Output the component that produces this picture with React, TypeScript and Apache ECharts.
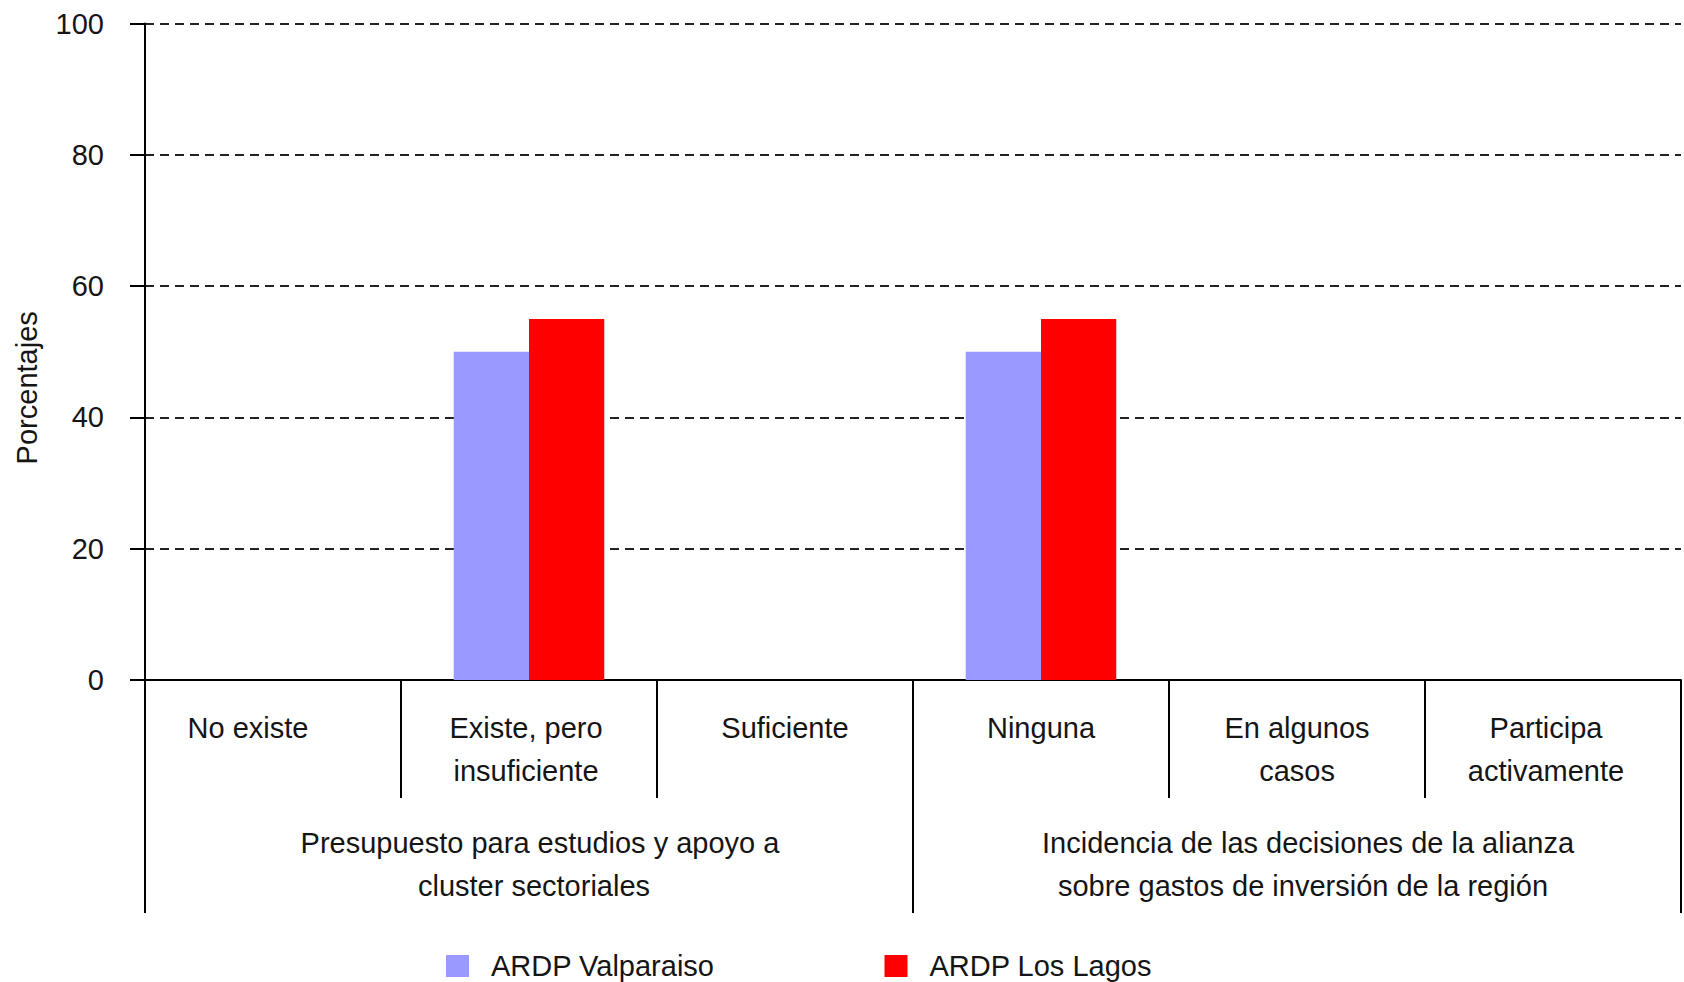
import React, { useEffect, useRef } from "react";
import * as echarts from "echarts";

const categories = [
  "No existe",
  "Existe, pero\ninsuficiente",
  "Suficiente",
  "Ninguna",
  "En algunos\ncasos",
  "Participa\nactivamente",
];
const groups = [
  "Presupuesto para estudios y apoyo a\ncluster sectoriales",
  "Incidencia de las decisiones de la alianza\nsobre gastos de inversión de la región",
];
const seriesNames = ["ARDP Valparaiso", "ARDP Los Lagos"];
const valparaiso = [0, 50, 0, 50, 0, 0];
const losLagos = [0, 55, 0, 55, 0, 0];
const yMin = 0;
const yMax = 100;
const yStep = 20;
const yTitle = "Porcentajes";

const FONT = "'Liberation Sans', Arial, Helvetica, sans-serif";
const TXT = "#151515";

// horizontal nudges of label lines (style only)
const catShift = [-50, -6, 0, 0, 0, -14];
const groupShift = [
  [22, 10],
  [22, 12],
];

function padFor(shift: number) {
  return shift >= 0 ? [0, 0, 0, shift] : [0, -shift, 0, 0];
}

export default function App() {
  const ref = useRef<HTMLDivElement>(null);
  useEffect(() => {
    if (!ref.current) return;
    const chart = echarts.init(ref.current, undefined, { renderer: "svg" });
    const gridPos = { left: 145, right: 3, top: 23.6, bottom: 302 };
    const baseText = { fontSize: 29, lineHeight: 43, color: TXT, fontFamily: FONT };

    const catRich: Record<string, any> = {};
    catShift.forEach((s, i) => {
      catRich["c" + i] = { ...baseText, padding: padFor(s) };
    });
    const groupRich: Record<string, any> = {};
    groupShift.forEach((arr, i) => {
      arr.forEach((s, j) => {
        groupRich["g" + i + "_" + j] = { ...baseText, padding: padFor(s) };
      });
    });

    chart.setOption({
      animation: false,
      backgroundColor: "#ffffff",
      textStyle: { fontFamily: FONT, color: TXT },
      grid: [
        { ...gridPos, containLabel: false },
        { ...gridPos, containLabel: false },
      ],
      legend: {
        left: 441,
        top: 946,
        itemWidth: 23,
        itemHeight: 22,
        itemGap: 170,
        icon: "rect",
        textStyle: { fontSize: 29, color: TXT, fontFamily: FONT, lineHeight: 30, padding: [0, 0, 0, 17] },
        data: seriesNames,
      },
      xAxis: [
        {
          type: "category",
          gridIndex: 0,
          data: categories,
          axisLine: { show: true, lineStyle: { color: "#000", width: 2 } },
          axisTick: { show: true, interval: 0, length: 118, lineStyle: { color: "#000", width: 2 } },
          axisLabel: {
            interval: 0,
            margin: 26.5,
            ...baseText,
            align: "center",
            formatter: (v: string, idx: number) =>
              v
                .split("\n")
                .map((l) => `{c${idx}|${l}}`)
                .join("\n"),
            rich: catRich,
          },
          splitLine: { show: false },
        },
        {
          type: "category",
          gridIndex: 1,
          position: "bottom",
          data: groups,
          axisLine: { show: false },
          axisTick: { show: true, interval: 0, length: 233, lineStyle: { color: "#000", width: 2 } },
          axisLabel: {
            interval: 0,
            margin: 141.5,
            ...baseText,
            align: "center",
            formatter: (v: string, idx: number) =>
              v
                .split("\n")
                .map((l, j) => `{g${idx}_${j}|${l}}`)
                .join("\n"),
            rich: groupRich,
          },
          splitLine: { show: false },
        },
      ],
      yAxis: [
        {
          type: "value",
          gridIndex: 0,
          min: yMin,
          max: yMax,
          interval: yStep,
          name: yTitle,
          nameLocation: "middle",
          nameRotate: 90,
          nameGap: 104,
          nameTextStyle: { fontSize: 29, color: TXT, fontFamily: FONT, padding: [0, 72, 0, 0] },
          axisLine: { show: true, lineStyle: { color: "#000", width: 2 } },
          axisTick: { show: true, length: 15, lineStyle: { color: "#000", width: 2 } },
          axisLabel: { margin: 41, fontSize: 29, color: TXT, fontFamily: FONT },
          splitLine: { show: true, lineStyle: { color: "#222", width: 2, type: [9, 6] } },
        },
        {
          type: "value",
          gridIndex: 1,
          min: yMin,
          max: yMax,
          show: false,
          splitLine: { show: false },
        },
      ],
      series: [
        {
          name: seriesNames[0],
          type: "bar",
          xAxisIndex: 0,
          yAxisIndex: 0,
          data: valparaiso,
          barWidth: "29.4%",
          barGap: "0%",
          itemStyle: { color: "#9999FF" },
        },
        {
          name: seriesNames[1],
          type: "bar",
          xAxisIndex: 0,
          yAxisIndex: 0,
          data: losLagos,
          barWidth: "29.4%",
          barGap: "0%",
          itemStyle: { color: "#FF0000" },
        },
      ],
    });
    return () => chart.dispose();
  }, []);
  return (
    <div
      ref={ref}
      style={{ position: "fixed", left: 0, top: 0, width: 1684, height: 982, background: "#fff" }}
    />
  );
}
